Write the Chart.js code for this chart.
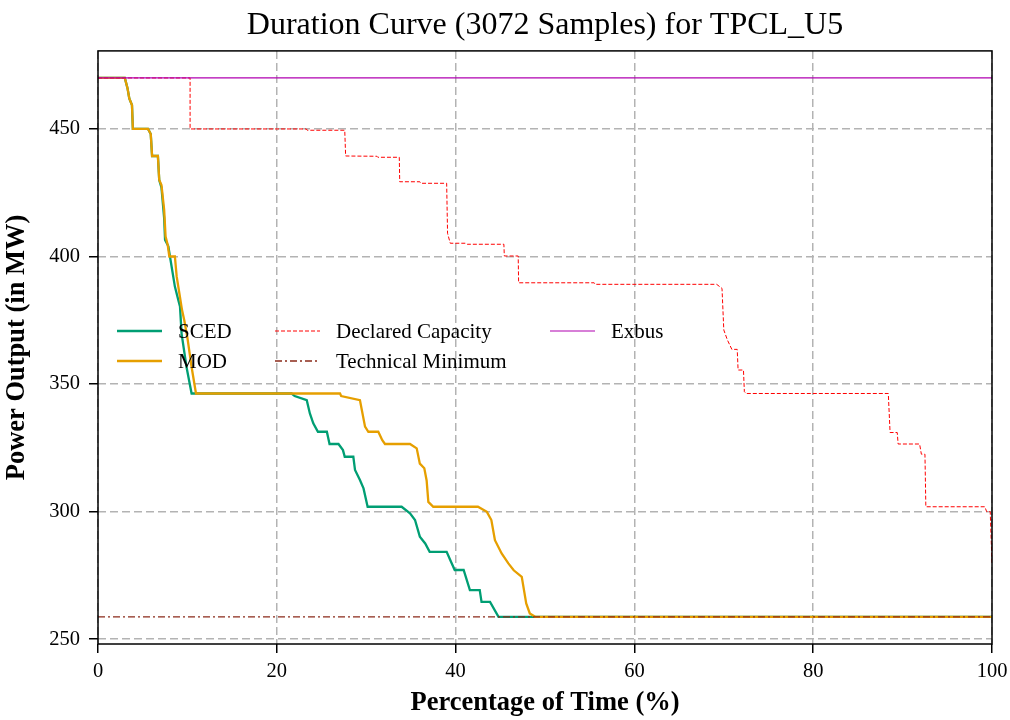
<!DOCTYPE html>
<html>
<head>
<meta charset="utf-8">
<script src="https://cdn.jsdelivr.net/npm/chart.js@4.4.1/dist/chart.umd.min.js"></script>
<style>
  html, body { margin: 0; padding: 0; background: #fff; }
  #wrap { width: 1010px; height: 720px; }
</style>
</head>
<body>
<div id="wrap"><canvas id="durationChart" width="1010" height="720"></canvas></div>
<script>
// valores (percentagem do tempo, MW)
const scedX = [0, 3.0, 3.3, 3.5, 3.8, 3.9, 5.6, 5.9, 6.05, 6.7, 6.85, 7.1, 7.4, 7.5, 7.87, 8.05, 8.6, 8.98, 9.17, 9.35, 9.9, 10.47,
  21.66, 22.0, 23.35, 23.7, 24.08, 24.6, 25.6, 25.9, 26.9, 27.4, 27.6, 28.56, 28.75, 29.3, 29.7, 30.16, 33.96, 34.9, 35.46,
  36.0, 36.6, 37.1, 39.0, 39.4, 39.9, 40.9, 41.6, 42.7, 42.9, 43.85, 44.8, 100];
const scedY = [470, 470, 466, 462, 459.4, 450, 450, 448, 439.4, 439.4, 430, 427, 415, 406.5, 404, 400, 388.2, 383, 380.4, 369.8, 356.7, 346.3,
  346.3, 345.3, 343.7, 338.5, 334.6, 331.3, 331.3, 326.5, 326.5, 324.1, 321.5, 321.5, 316.3, 312.4, 309.1, 301.9, 301.9, 299.3, 296.7,
  290.2, 287.5, 284.2, 284.2, 281.0, 277.1, 277.1, 269.2, 269.2, 264.6, 264.6, 258.75, 258.75];

const modX = [0, 3.0, 3.3, 3.5, 3.8, 3.9, 5.6, 5.9, 6.05, 6.7, 6.85, 7.1, 7.4, 7.56, 7.8, 7.98, 8.6, 8.8, 9.1, 9.4, 9.65, 9.99, 10.47, 10.96,
  27.07, 27.2, 29.3, 29.5, 29.87, 30.24, 31.35, 31.8, 32.1, 34.9, 35.65, 36.0, 36.5, 36.76, 36.95, 37.5, 42.5, 43.5, 44.0, 44.4,
  45.15, 45.9, 46.5, 47.4, 47.9, 48.3, 48.9, 100];
const modY = [470, 470, 466, 462, 459.4, 450, 450, 448, 439.4, 439.4, 430, 428, 418.3, 407.8, 404.5, 400, 400, 392.2, 385.6, 379, 375, 368.4, 356.7, 346.3,
  346.3, 345.3, 343.7, 340, 333.3, 331.3, 331.3, 328, 326.5, 326.5, 324.8, 318.8, 317, 312.2, 303.8, 301.9, 301.9, 299.9, 296.7, 288.8,
  283.6, 279.7, 277, 274.4, 264.0, 260.1, 258.75, 258.75];

const declaredX = [0, 10.3, 10.3, 23.3, 23.4, 27.6, 27.7, 31.2, 31.3, 33.7, 33.75, 36.0, 36.1, 39.0, 39.1, 39.4, 41.2, 41.3, 45.4, 45.45,
  47.0, 47.05, 55.5, 55.6, 69.2, 69.8, 70.0, 70.4, 70.9, 71.5, 71.6, 72.2, 72.3, 72.5, 88.4, 88.6, 89.4, 89.5, 91.9, 92.1, 92.5, 92.6,
  99.2, 99.4, 99.8, 100];
const declaredY = [470, 470, 450, 450, 449.5, 449.5, 439.4, 439.3, 438.9, 438.9, 429.3, 429.3, 428.7, 428.7, 409.1, 405.2, 405.2, 404.8, 404.8, 400.2,
  400.2, 389.7, 389.7, 389.1, 389.1, 387.5, 371.2, 367.3, 363.6, 363.6, 355.5, 355.5, 347.0, 346.3, 346.3, 331.0, 331.0, 326.5, 326.5, 322.5, 322.5, 301.9,
  301.9, 300, 300, 279.7];

const techMinX = [0, 100];
const techMinY = [258.75, 258.75];
const exbusX = [0, 100];
const exbusY = [470, 470];

const xTicks = [0, 20, 40, 60, 80, 100];
const yTicks = [250, 300, 350, 400, 450];

const serif = "'Liberation Serif', 'Times New Roman', serif";

function pontos(xs, ys) {
    return xs.map((x, i) => ({ x: x, y: ys[i] }));
}

// legenda desenhada dentro da área do gráfico, sem moldura
const legendaInterna = {
    id: 'legendaInterna',
    afterDatasetsDraw(chart) {
        const ctx = chart.ctx;
        const itens = [
            { ds: 0, x: 117, y: 331 },
            { ds: 1, x: 117, y: 361 },
            { ds: 2, x: 275, y: 331 },
            { ds: 3, x: 275, y: 361 },
            { ds: 4, x: 550, y: 331 }
        ];
        ctx.save();
        itens.forEach(it => {
            const d = chart.data.datasets[it.ds];
            ctx.strokeStyle = d.borderColor;
            ctx.lineWidth = d.borderWidth;
            ctx.setLineDash(d.borderDash || []);
            ctx.beginPath();
            ctx.moveTo(it.x, it.y);
            ctx.lineTo(it.x + 45, it.y);
            ctx.stroke();
            ctx.setLineDash([]);
            ctx.fillStyle = '#000';
            ctx.font = '21px ' + serif;
            ctx.textBaseline = 'middle';
            ctx.fillText(d.label, it.x + 61, it.y + 1);
        });
        ctx.restore();
    },
    afterDraw(chart) {
        const a = chart.chartArea;
        const ctx = chart.ctx;
        ctx.save();
        ctx.strokeStyle = '#000';
        ctx.lineWidth = 1.5;
        ctx.setLineDash([]);
        ctx.strokeRect(a.left, a.top, a.right - a.left, a.bottom - a.top);
        ctx.restore();
    }
};

const ctx = document.getElementById('durationChart');
new Chart(ctx, {
    type: 'line',
    data: {
        datasets: [
            {
                label: 'SCED',
                data: pontos(scedX, scedY),
                borderColor: '#009E73',
                borderWidth: 2.3,
                order: 5
            },
            {
                label: 'MOD',
                data: pontos(modX, modY),
                borderColor: '#E69F00',
                borderWidth: 2.3,
                order: 4
            },
            {
                label: 'Declared Capacity',
                data: pontos(declaredX, declaredY),
                borderColor: '#ff0000',
                borderWidth: 1,
                borderDash: [4, 2],
                order: 3
            },
            {
                label: 'Technical Minimum',
                data: pontos(techMinX, techMinY),
                borderColor: '#8b2a1a',
                borderWidth: 1.3,
                borderDash: [7, 3, 2, 3],
                order: 2
            },
            {
                label: 'Exbus',
                data: pontos(exbusX, exbusY),
                borderColor: '#b000b0',
                borderWidth: 1.2,
                order: 1
            }
        ]
    },
    options: {
        responsive: false,
        animation: false,
        layout: { padding: { left: 0, right: 18, top: 0, bottom: 0 } },
        elements: {
            point: { radius: 0 },
            line: { tension: 0, fill: false }
        },
        plugins: {
            legend: { display: false },
            tooltip: { enabled: false },
            title: {
                display: true,
                fullSize: false,
                text: 'Duration Curve (3072 Samples) for TPCL_U5',
                color: '#000',
                font: { family: serif, size: 32, weight: 'normal' },
                padding: { top: 6, bottom: 6.5 }
            }
        },
        scales: {
            x: {
                type: 'linear',
                min: 0,
                max: 100,
                afterBuildTicks: s => { s.ticks = xTicks.map(v => ({ value: v })); },
                afterFit: s => { s.height = 76; s.paddingRight = 0; s.paddingLeft = 0; },
                grid: {
                    color: '#b3b3b3',
                    lineWidth: 1.5,
                    tickColor: '#000',
                    tickLength: 9,
                    tickWidth: 1.5
                },
                border: { display: false, dash: [8, 4] },
                ticks: {
                    color: '#000',
                    padding: 6,
                    maxRotation: 0,
                    font: { family: serif, size: 20.5 }
                },
                title: {
                    display: true,
                    text: 'Percentage of Time (%)',
                    color: '#000',
                    font: { family: serif, size: 26.5, weight: 'bold' },
                    padding: { top: 0, bottom: 1 }
                }
            },
            y: {
                type: 'linear',
                min: 248.1,
                max: 480.6,
                afterBuildTicks: s => { s.ticks = yTicks.map(v => ({ value: v })); },
                afterFit: s => { s.width = 98; },
                grid: {
                    color: '#b3b3b3',
                    lineWidth: 1.5,
                    tickColor: '#000',
                    tickLength: 9,
                    tickWidth: 1.5
                },
                border: { display: false, dash: [8, 4] },
                ticks: {
                    color: '#000',
                    padding: 9,
                    font: { family: serif, size: 20.5 }
                },
                title: {
                    display: true,
                    text: 'Power Output (in MW)',
                    color: '#000',
                    font: { family: serif, size: 26.5, weight: 'bold' },
                    padding: { top: 1, bottom: 0 }
                }
            }
        }
    },
    plugins: [legendaInterna]
});
</script>
</body>
</html>
